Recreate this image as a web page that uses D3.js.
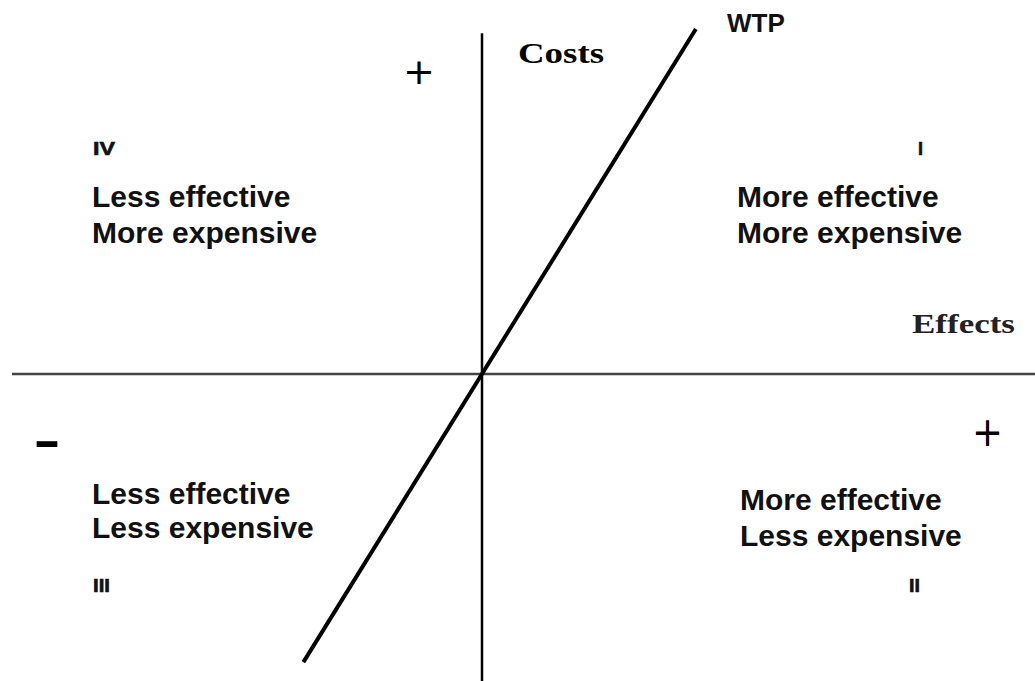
<!DOCTYPE html>
<html>
<head>
<meta charset="utf-8">
<script src="https://cdn.jsdelivr.net/npm/d3@7"></script>
<style>
  body { margin: 0; background: #fff; }
  svg { display: block; }
</style>
</head>
<body>
<svg id="chart" width="1035" height="681"></svg>
<script>
// cost-effectiveness plane, effects on x, costs on y (both -1..1 around the origin)
const effectsExtent = [-1, 1.177];
const costsExtent = [-1, 1.11];
const wtpSlope = 2.47;
const wtpEffects = [-0.38, 0.455];

const quadrantIds = ["I", "II", "III", "IV"];
const quadrantLines = [
    ["More effective", "More expensive"],
    ["More effective", "Less expensive"],
    ["Less effective", "Less expensive"],
    ["Less effective", "More expensive"]
];
const axisTitles = ["Effects", "Costs", "WTP"];
const signs = ["+", "+", "-"];

const width = 1035, height = 681;
const svg = d3.select("#chart");

const x = d3.scaleLinear().domain([-1, 1]).range([12, 952]);
const y = d3.scaleLinear().domain([-1, 1]).range([681, 67]);

const sans = "'Liberation Sans', Arial, sans-serif";
const serif = "'Liberation Serif', 'Times New Roman', serif";
const ink = "#111";

// axes
svg.append("line")
    .attr("x1", x(effectsExtent[0])).attr("x2", x(effectsExtent[1]))
    .attr("y1", y(0)).attr("y2", y(0))
    .attr("stroke", "#444").attr("stroke-width", 2.5);

svg.append("line")
    .attr("x1", x(0)).attr("x2", x(0))
    .attr("y1", y(costsExtent[0])).attr("y2", y(costsExtent[1]))
    .attr("stroke", "#000").attr("stroke-width", 2.5);

// willingness-to-pay threshold
svg.append("line")
    .attr("x1", x(wtpEffects[0])).attr("y1", y(wtpEffects[0] * wtpSlope))
    .attr("x2", x(wtpEffects[1])).attr("y2", y(wtpEffects[1] * wtpSlope))
    .attr("stroke", "#000").attr("stroke-width", 4);

// quadrant placement: [id x, id baseline, text x, first baseline, line gap]
const quadrantPlace = [
    [918, 155, 737, 207, 36],
    [909, 592, 740, 510, 36],
    [93, 592, 92, 504, 34],
    [93, 155, 92, 207, 36]
];
const idWidths = { "I": 5, "II": 11, "III": 17, "IV": 22 };

quadrantIds.forEach((id, i) => {
    const p = quadrantPlace[i];
    svg.append("text")
        .attr("x", p[0]).attr("y", p[1])
        .attr("font-family", sans).attr("font-weight", "bold")
        .attr("font-size", 18).attr("fill", ink)
        .attr("stroke", ink).attr("stroke-width", 0.6)
        .attr("textLength", idWidths[id]).attr("lengthAdjust", "spacingAndGlyphs")
        .text(id);
    quadrantLines[i].forEach((line, j) => {
        svg.append("text")
            .attr("x", p[2]).attr("y", p[3] + j * p[4])
            .attr("font-family", sans).attr("font-weight", "bold")
            .attr("font-size", 30).attr("fill", ink)
            .text(line);
    });
});

// axis titles
svg.append("text")
    .attr("x", 912).attr("y", 333)
    .attr("font-family", serif).attr("font-weight", "bold")
    .attr("font-size", 27).attr("fill", "#222")
    .attr("textLength", 103).attr("lengthAdjust", "spacingAndGlyphs")
    .text(axisTitles[0]);

svg.append("text")
    .attr("x", 518).attr("y", 63)
    .attr("font-family", serif).attr("font-weight", "bold")
    .attr("font-size", 30).attr("fill", "#000")
    .attr("textLength", 86).attr("lengthAdjust", "spacingAndGlyphs")
    .text(axisTitles[1]);

svg.append("text")
    .attr("x", 727).attr("y", 32)
    .attr("font-family", sans).attr("font-weight", "bold")
    .attr("font-size", 26).attr("fill", ink)
    .text(axisTitles[2]);

// signs
const signPlace = [[403, 84, 32, 36], [972, 446, 31, 40], [33, 456, 28, 40]];
signs.forEach((s, i) => {
    const p = signPlace[i];
    svg.append("text")
        .attr("x", p[0]).attr("y", p[1])
        .attr("font-family", "'DejaVu Sans', sans-serif")
        .attr("font-weight", s === "-" ? "bold" : "normal")
        .attr("font-size", p[3]).attr("fill", "#000")
        .attr("textLength", p[2]).attr("lengthAdjust", "spacingAndGlyphs")
        .text(s);
});
</script>
</body>
</html>
